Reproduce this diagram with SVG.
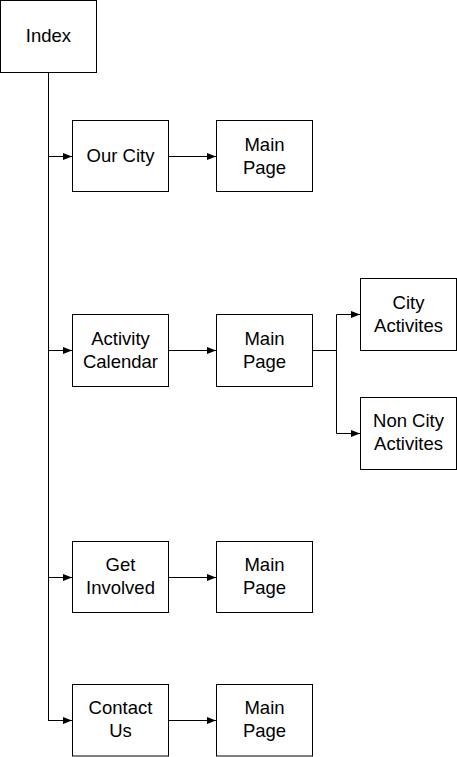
<svg xmlns="http://www.w3.org/2000/svg" width="457" height="757" viewBox="0 0 457 757">
<style>
rect{fill:#fff;stroke:#000;stroke-width:1}
text{font-family:"Liberation Sans",Arial,sans-serif;font-size:18.5px;fill:#000;text-anchor:middle}
.c{fill:none;stroke:#000;stroke-width:1}
</style>
<defs>
<marker id="a" markerWidth="9" markerHeight="8" refX="9" refY="4" orient="auto" markerUnits="userSpaceOnUse">
<path d="M0,0.5 L9,4 L0,7.5 Z" fill="#000"/>
</marker>
</defs>
<rect x="0" y="0" width="457" height="757" style="fill:#fff;stroke:none"/>
<g id="connectors">
<path class="c" d="M48.5,72.5 V720.5"/>
<path class="c" d="M48.5,156.5 H72" marker-end="url(#a)"/>
<path class="c" d="M48.5,350.5 H72" marker-end="url(#a)"/>
<path class="c" d="M48.5,577.5 H72" marker-end="url(#a)"/>
<path class="c" d="M48,720.5 H72" marker-end="url(#a)"/>
<path class="c" d="M168.5,156.5 H216" marker-end="url(#a)"/>
<path class="c" d="M168.5,350.5 H216" marker-end="url(#a)"/>
<path class="c" d="M168.5,577.5 H216" marker-end="url(#a)"/>
<path class="c" d="M168.5,720.5 H216" marker-end="url(#a)"/>
<path class="c" d="M312.5,350.5 H336.5 V314.5 H360" marker-end="url(#a)"/>
<path class="c" d="M336.5,350.5 V433.5 H360" marker-end="url(#a)"/>
</g>
<g id="index"><rect x="0.5" y="0.5" width="96" height="72"/><text x="48.5" y="42">Index</text></g>
<g id="ourcity"><rect x="72.5" y="120.5" width="96" height="71"/><text x="120.5" y="162">Our City</text></g>
<g id="main1"><rect x="216.5" y="120.5" width="96" height="71"/><text x="264.5" y="151">Main</text><text x="264.5" y="173.5">Page</text></g>
<g id="activity"><rect x="72.5" y="314.5" width="96" height="72"/><text x="120.5" y="345">Activity</text><text x="120.5" y="367.5">Calendar</text></g>
<g id="main2"><rect x="216.5" y="314.5" width="96" height="72"/><text x="264.5" y="345">Main</text><text x="264.5" y="367.5">Page</text></g>
<g id="city"><rect x="360.5" y="278.5" width="96" height="72"/><text x="408.5" y="309">City</text><text x="408.5" y="331.5">Activites</text></g>
<g id="noncity"><rect x="360.5" y="397.5" width="96" height="72"/><text x="408.5" y="427">Non City</text><text x="408.5" y="449.5">Activites</text></g>
<g id="getinvolved"><rect x="72.5" y="541.5" width="96" height="71"/><text x="120.5" y="571">Get</text><text x="120.5" y="593.5">Involved</text></g>
<g id="main3"><rect x="216.5" y="541.5" width="96" height="71"/><text x="264.5" y="571">Main</text><text x="264.5" y="593.5">Page</text></g>
<g id="contact"><rect x="72.5" y="684.5" width="96" height="71.5"/><text x="120.5" y="714">Contact</text><text x="120.5" y="736.5">Us</text></g>
<g id="main4"><rect x="216.5" y="684.5" width="96" height="71.5"/><text x="264.5" y="714">Main</text><text x="264.5" y="736.5">Page</text></g>
</svg>
